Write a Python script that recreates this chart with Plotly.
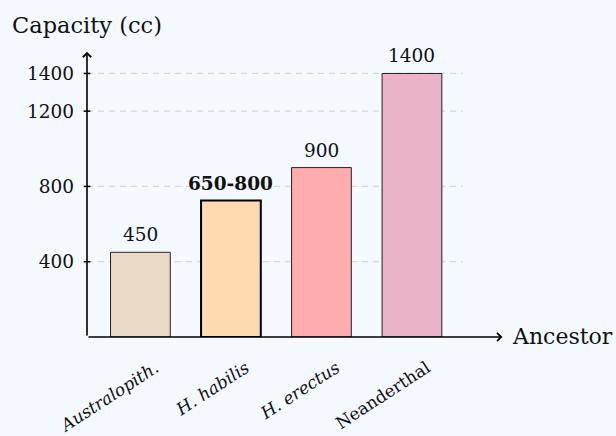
import plotly.graph_objects as go

# Endocranial capacity by ancestor (cc); a range is given as low/high
ancestors = ["Australopith.", "H. habilis", "H. erectus", "Neanderthal"]
italic_names = [True, True, True, False]
capacity_low = [450, 650, 900, 1400]
capacity_high = [450, 800, 900, 1400]
bar_colors = ["#EAD9C4", "#FFD9B0", "#FFACAC", "#EAB3C8"]
y_ticks = [400, 800, 1200, 1400]

FONT = "DejaVu Serif"
BG = "#F4F8FF"

values = [(lo + hi) / 2 for lo, hi in zip(capacity_low, capacity_high)]
labels = [f"{lo}" if lo == hi else f"{lo}-{hi}" for lo, hi in zip(capacity_low, capacity_high)]
is_range = [lo != hi for lo, hi in zip(capacity_low, capacity_high)]
tick_text = [f"<i>{n}</i>" if it else n for n, it in zip(ancestors, italic_names)]
xpos = list(range(len(ancestors)))

x_range = [-0.59, 4.05]
y_range = [0, 1530]
x_arrow_tip = 4.0
y_arrow_tip = 1515

fig = go.Figure()
fig.add_trace(go.Bar(
    x=xpos, y=values, width=0.66,
    marker=dict(
        color=bar_colors,
        line=dict(color=["#222222" if r is False else "#000000" for r in is_range],
                  width=[1 if r is False else 2 for r in is_range]),
    ),
    hoverinfo="skip",
))

shapes = []
# dashed horizontal guides
for t in y_ticks:
    shapes.append(dict(type="line", xref="x", yref="y", x0=x_range[0], x1=len(ancestors) - 0.44,
                       y0=t, y1=t, line=dict(color="#D6D6D6", width=1.3, dash="6px,5px"), layer="below"))
    # tick mark crossing the y axis
    shapes.append(dict(type="line", xref="paper", yref="y", x0=-0.008, x1=0.008,
                       y0=t, y1=t, line=dict(color="black", width=1.5)))

annotations = []
# axes drawn as arrows
annotations.append(dict(x=x_arrow_tip, y=0, ax=x_range[0], ay=0, xref="x", yref="y", axref="x", ayref="y",
                        showarrow=True, arrowhead=4, arrowsize=1, arrowwidth=1.6, arrowcolor="black", text=""))
annotations.append(dict(x=x_range[0], y=y_arrow_tip, ax=x_range[0], ay=0, xref="x", yref="y", axref="x", ayref="y",
                        showarrow=True, arrowhead=4, arrowsize=1, arrowwidth=1.6, arrowcolor="black", text=""))
# value labels
for x, v, lab, r in zip(xpos, values, labels, is_range):
    annotations.append(dict(x=x, y=v, xref="x", yref="y", text=f"<b>{lab}</b>" if r else lab,
                            showarrow=False, yanchor="bottom", yshift=5,
                            font=dict(family=FONT, size=18.5, color="#111111")))
# axis titles
annotations.append(dict(x=0, y=1, xref="paper", yref="paper", text="Capacity (cc)", showarrow=False,
                        xanchor="center", yanchor="middle", yshift=24,
                        font=dict(family=FONT, size=22.5, color="#111111")))
annotations.append(dict(x=x_arrow_tip, y=0, xref="x", yref="y", text="Ancestor", showarrow=False,
                        xanchor="left", yanchor="middle", xshift=8, yshift=1,
                        font=dict(family=FONT, size=22, color="#111111")))

fig.update_layout(
    width=616, height=436,
    margin=dict(l=87, r=109, t=49, b=99),
    paper_bgcolor=BG, plot_bgcolor=BG,
    showlegend=False,
    shapes=shapes, annotations=annotations,
    xaxis=dict(range=x_range, tickvals=xpos, ticktext=tick_text, tickangle=-33,
               showgrid=False, zeroline=False, showline=False, ticks="", automargin=False,
               tickfont=dict(family=FONT, size=17, color="#111111"),
               ticklabelshift=15, ticklabelstandoff=17),
    yaxis=dict(range=y_range, tickvals=y_ticks, showgrid=False, zeroline=False, showline=False,
               ticks="", ticklabelstandoff=12, automargin=False,
               tickfont=dict(family=FONT, size=18.5, color="#111111")),
)

fig.write_html("out.html")
